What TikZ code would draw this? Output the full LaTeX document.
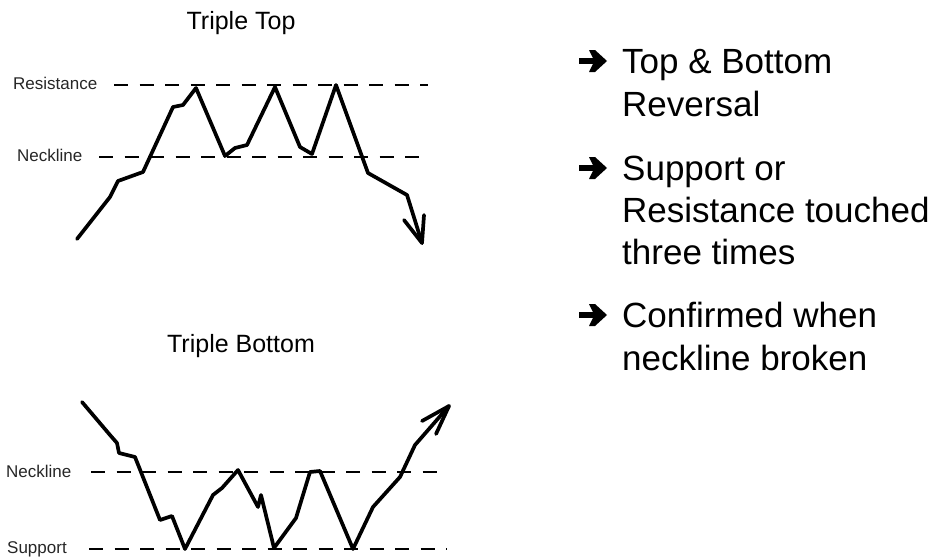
\documentclass[tikz,border=0pt]{standalone}
\usepackage{fontspec}
\setmainfont{Liberation Sans}
\begin{document}
\begin{tikzpicture}[x=1pt,y=-1pt,
  price/.style={line width=3.7pt,line join=round,line cap=round},
  level/.style={line width=1.1pt,dash pattern=on 14pt off 11.5pt},
  charttitle/.style={font=\fontsize{25}{28}\selectfont,inner sep=0pt},
  lvllabel/.style={font=\fontsize{17}{19}\selectfont,inner sep=0pt,anchor=base west,text=black!85},
  bullettext/.style={font=\fontsize{35}{40}\selectfont,inner sep=0pt,anchor=base west},
  bulletarrow/.pic={\fill (0,-2.8) -- (14,-2.8) -- (10,-11) -- (16,-11) -- (28,0)
     -- (16,11) -- (10,11) -- (14,2.8) -- (0,2.8) -- cycle;}]
\useasboundingbox (0,0) rectangle (937,557);

% ---------- Triple Top ----------
\node[charttitle] (tt) at (241,23) {Triple Top};
\node[lvllabel] (res) at (13,89) {Resistance};
\node[lvllabel] (nk1) at (17,161) {Neckline};
\coordinate (resA) at (114,85);
\coordinate (resB) at (428,85);
\coordinate (nkA) at (99,157);
\coordinate (nkB) at (428,157);
\draw[level] (resA) -- (resB);
\draw[level] (nkA) -- (nkB);
\coordinate (tip1) at (422,243);
\draw[price] (77,239) -- (110,197) -- (118,181) -- (143,172) -- (173,107) -- (183,105)
  -- (196,88) -- (225,156) -- (235,148) -- (247,145) -- (275,87) -- (300,147)
  -- (312,154) -- (336,85) -- (368,173) -- (407,195) -- (tip1);
\draw[price] (404,220) -- (tip1) -- (424,215);

% ---------- Triple Bottom ----------
\node[charttitle] (tb) at (241,346) {Triple Bottom};
\node[lvllabel] (nk2) at (6,477) {Neckline};
\node[lvllabel] (sup) at (7,553) {Support};
\coordinate (nk2A) at (91,472);
\coordinate (nk2B) at (447,472);
\coordinate (supA) at (89,549);
\coordinate (supB) at (447,549);
\draw[level] (nk2A) -- (nk2B);
\draw[level] (supA) -- (supB);
\coordinate (tip2) at (449,406);
\draw[price] (82,402) -- (110,435) -- (117,443) -- (119,453) -- (135,457) -- (160,520)
  -- (172,516) -- (185,549) -- (213,495) -- (222,488) -- (238,470) -- (258,507)
  -- (261,495) -- (274,548) -- (296,518) -- (310,472) -- (320,471) -- (353,549)
  -- (373,507) -- (400,477) -- (415,445) -- (tip2);
\draw[price] (422,421) -- (tip2) -- (436,434);

% ---------- Bullets ----------
\pic (b1) at (579,61) {bulletarrow};
\node[bullettext] (t1a) at (622,73) {Top \& Bottom};
\node[bullettext] (t1b) at (622,116) {Reversal};
\pic (b2) at (579,168) {bulletarrow};
\node[bullettext] (t2a) at (622,180) {Support or};
\node[bullettext] (t2b) at (622,222) {Resistance touched};
\node[bullettext] (t2c) at (622,264) {three times};
\pic (b3) at (579,315) {bulletarrow};
\node[bullettext] (t3a) at (622,327) {Confirmed when};
\node[bullettext] (t3b) at (622,370) {neckline broken};
\end{tikzpicture}
\end{document}
